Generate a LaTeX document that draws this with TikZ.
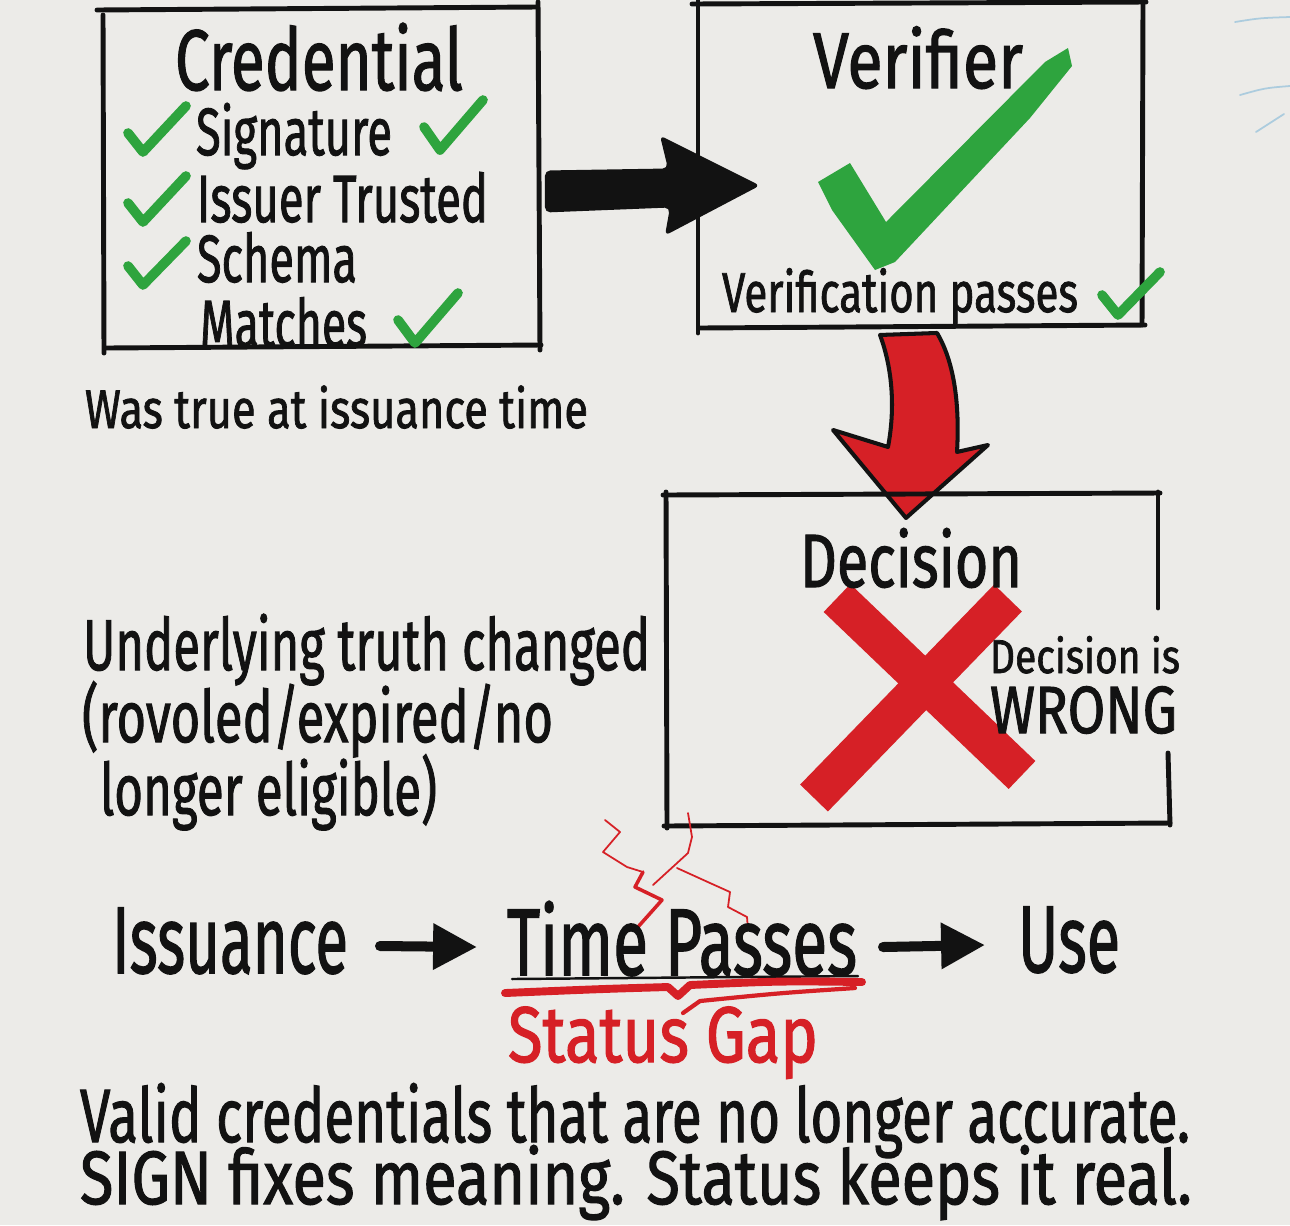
\documentclass[tikz,border=0pt]{standalone}
\usepackage{fontspec}
\setmainfont{Fira Sans}[FakeBold=1.6]
\usetikzlibrary{arrows.meta,calc}
\definecolor{bg}{RGB}{236,235,232}
\definecolor{ink}{RGB}{18,18,18}
\definecolor{chk}{RGB}{46,164,62}
\definecolor{redx}{RGB}{214,32,38}
\definecolor{faintblue}{RGB}{172,204,222}
\newlength\pxu \setlength\pxu{0.02cm}
\newcommand\hw[3]{\resizebox{#1\pxu}{\height}{\fontsize{#2pt}{#2pt}\selectfont #3}}
\begin{document}
\begin{tikzpicture}[x=0.02cm,y=-0.02cm,
  txt/.style={inner sep=0pt,outer sep=0pt,anchor=base west,text=ink},
  rtxt/.style={txt,text=redx},
  boxarea/.style={draw=none,inner sep=0pt,outer sep=0pt},
  stroke/.style={draw=ink,line width=2.8pt,line cap=round,line join=round},
  tick/.style={draw=chk,line width=5.5pt,line cap=round,line join=round},
  tl/.style={draw=ink,line width=5.7pt,line cap=round,-{Triangle[length=25pt,width=25pt]}},
  crack/.style={draw=redx,line width=1pt,line join=round,line cap=round}
]
% background and bounding box
\fill[bg] (0,0) rectangle (1290,1225);
\useasboundingbox (0,0) rectangle (1290,1225);

% faint blue marks at right edge
\draw[faintblue,line width=1pt,line cap=round] (1235,22) .. controls (1260,18) .. (1290,17);
\draw[faintblue,line width=1pt,line cap=round] (1240,95) .. controls (1265,88) .. (1290,86);
\draw[faintblue,line width=1pt,line cap=round] (1256,132) -- (1284,114);

% ---------- box areas (named) ----------
\node[boxarea,minimum width=8.7cm,minimum height=6.74cm] (credbox) at (320.5,178.5) {};
\node[boxarea,minimum width=8.88cm,minimum height=6.5cm] (verbox) at (920,165.5) {};
\node[boxarea,minimum width=9.98cm,minimum height=6.6cm] (decbox) at (914.5,660) {};

% ---------- Credential box ----------
\draw[stroke] (97,10) -- (537,7);
\draw[stroke] (103,15) -- (104,353);
\draw[stroke] (538,2) -- (540,350);
\draw[stroke] (106,348) -- (541,345);

\node[txt] (tcred) at (175,90) {\hw{288}{49}{Credential}};
\node[txt] (tsig) at (196,155) {\hw{196}{38}{Signature}};
\node[txt] (tiss) at (197,222) {\hw{291}{38}{Issuer Trusted}};
\node[txt] (tsch) at (197,282) {\hw{160}{38}{Schema}};
\node[txt] (tmat) at (200,347) {\hw{167}{38}{Matches}};
\node[txt] (twas) at (85,428) {\hw{503}{31}{Was true at issuance time}};

\draw[tick] (128,133) -- (143,152) -- (186,106);
\draw[tick] (128,203) -- (143,222) -- (186,176);
\draw[tick] (128,266) -- (143,285) -- (186,241);
\draw[tick] (424,127) -- (440,150) -- (483,100);
\draw[tick] (398,320) -- (415,343) -- (458,293);

% ---------- black arrow credential -> verifier ----------
\begin{scope}[shift={(credbox.east)}]
  \fill[ink,rounded corners=3pt] (7,-8) -- (130,-10) -- (122,-43) -- (222,7) -- (127,57) -- (132,29) -- (7,34) -- cycle;
\end{scope}

% ---------- Verifier box ----------
\draw[stroke] (692,4) -- (1146,2);
\draw[stroke] (698,0) -- (698,333);
\draw[stroke] (1143,0) -- (1142,325);
\draw[stroke] (700,328) -- (1145,325);

\node[txt] (tver) at (813,88) {\hw{210}{45}{Verifier}};
\node[txt] (tvp) at (722,312) {\hw{356}{32}{Verification passes}};

\fill[chk] (818,182) -- (850,163) -- (886,222) -- (1045,62) -- (1068,48) -- (1072,66)
  -- (1030,118) -- (895,262) -- (875,270) -- (832,210) -- cycle;
\draw[tick] (1102,295) -- (1118,315) -- (1160,272);

% ---------- red arrow verifier -> decision ----------
\begin{scope}[shift={(verbox.south)}]
  \filldraw[fill=redx,draw=ink,line width=2.3pt,line join=round]
    (-40,7) .. controls (-27,42) and (-25,82) .. (-32,119)
    -- (-87,102) -- (-14,190) -- (68,117) -- (37,124)
    .. controls (40,72) and (33,32) .. (17,5) -- cycle;
\end{scope}

% ---------- Decision box ----------
\draw[redx,line width=22pt] (837,598) -- (1022,775);
\draw[redx,line width=22pt] (1008,598) -- (814,798);

\draw[stroke] (663,495) -- (1160,493);
\draw[stroke] (666,492) -- (667,828);
\draw[stroke] (664,826) -- (1170,823);
\draw[stroke] (1158,492) -- (1158,608);
\draw[stroke] (1168,753) -- (1170,825);

\node[txt] (tdec) at (800,587) {\hw{222}{43}{Decision}};
\node[txt] (tdis) at (990,673) {\hw{190}{27}{Decision is}};
\node[txt] (twr) at (990,733) {\hw{187}{38}{WRONG}};

% ---------- left explanation ----------
\node[txt] (tu1) at (83,670) {\hw{567}{41}{Underlying truth changed}};
\node[txt] (tu2) at (82,742) {\hw{471}{41}{(rovoled/expired/no}};
\node[txt] (tu3) at (100,815) {\hw{337}{41}{longer eligible)}};

% ---------- cracks ----------
\draw[crack] (605,820) -- (620,832) -- (603,852) -- (627,867) -- (643,872);
\draw[crack,line width=2pt] (643,872) -- (635,887) -- (662,900) -- (637,928);
\draw[crack] (688,813) -- (692,837) -- (688,853) -- (653,885);
\draw[crack] (677,868) -- (710,883) -- (730,892) -- (728,907) -- (747,917) -- (748,930);

% ---------- timeline ----------
\node[txt] (iss) at (112,973) {\hw{236}{54}{Issuance}};
\node[txt] (tp) at (507,975) {\hw{350}{54}{Time Passes}};
\node[txt] (use) at (1018,972) {\hw{102}{54}{Use}};
\draw[tl] ($(iss.base east)+(32,-27)$) -- ($(tp.base west)+(-30,-28)$);
\draw[tl] ($(tp.base east)+(26,-28)$) -- ($(use.base west)+(-33,-27)$);

\draw[ink,line width=1.4pt,line cap=round] (512,979) -- (858,976);
\draw[redx,line width=4.5pt,line cap=round,line join=round]
  (505,993) .. controls (600,989) .. (668,987) -- (678,996) -- (690,985) .. controls (780,981) .. (862,982);
\draw[redx,line width=2.4pt,line cap=round,line join=round]
  (683,1013) -- (700,1001) .. controls (780,993) .. (855,988);

\node[rtxt] (gap) at (508,1062) {\hw{310}{45}{Status Gap}};

% ---------- bottom text ----------
\node[txt] (b1) at (80,1142) {\hw{1110}{43}{Valid credentials that are no longer accurate.}};
\node[txt] (b2) at (80,1204) {\hw{1112}{43}{SIGN fixes meaning. Status keeps it real.}};
\end{tikzpicture}
\end{document}
